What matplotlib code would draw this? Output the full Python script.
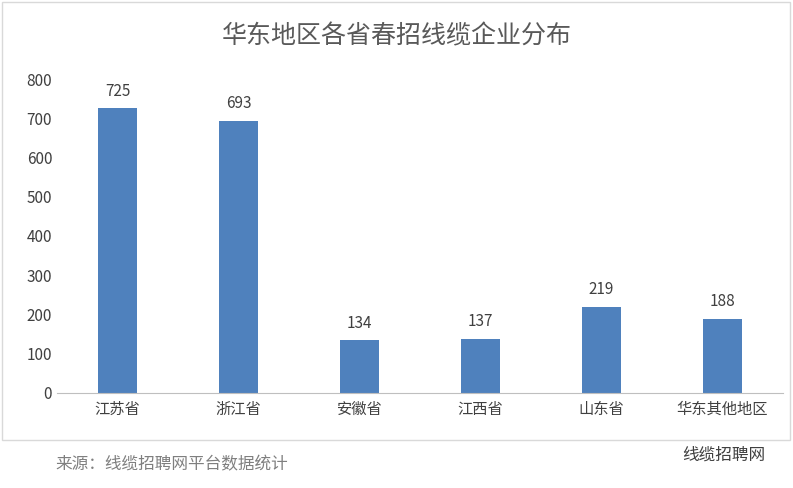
import matplotlib
matplotlib.use("Agg")
import matplotlib.pyplot as plt
from matplotlib.patches import Rectangle

plt.rcParams["font.family"] = "Noto Sans CJK SC"

provinces = ["江苏省", "浙江省", "安徽省", "江西省", "山东省", "华东其他地区"]
counts = [725, 693, 134, 137, 219, 188]
yticks = [0, 100, 200, 300, 400, 500, 600, 700, 800]

fig = plt.figure(figsize=(7.93, 4.88), dpi=100)
ax = fig.add_axes([0.072, 0.195, 0.915, 0.643])

bars = ax.bar(range(len(provinces)), counts, width=0.32, color="#4F81BD")
for i, v in enumerate(counts):
    ax.text(i, v + 22, str(v), ha="center", va="bottom", fontsize=11, color="#404040")

ax.set_xlim(-0.5, len(provinces) - 0.5)
ax.set_ylim(0, 800)
ax.set_yticks(yticks)
ax.set_xticks(range(len(provinces)))
ax.set_xticklabels(provinces, fontsize=11, color="#404040")
ax.tick_params(axis="y", labelsize=11, colors="#404040", length=0)
ax.tick_params(axis="x", length=0, pad=6)
for s in ["top", "right", "left"]:
    ax.spines[s].set_visible(False)
ax.spines["bottom"].set_color("#BFBFBF")

fig.text(0.5, 0.925, "华东地区各省春招线缆企业分布", ha="center", va="center",
         fontsize=18, color="#595959")

# outer chart border
fig.patches.append(Rectangle((0.002, 0.098), 0.994, 0.898, transform=fig.transFigure,
                             fill=False, edgecolor="#D9D9D9", linewidth=1))

fig.text(0.07, 0.047, "来源：线缆招聘网平台数据统计", ha="left", va="center",
         fontsize=12, color="#7F7F7F")
fig.text(0.965, 0.068, "线缆招聘网", ha="right", va="center",
         fontsize=12, color="#404040")

fig.savefig("out.png", dpi=100)
